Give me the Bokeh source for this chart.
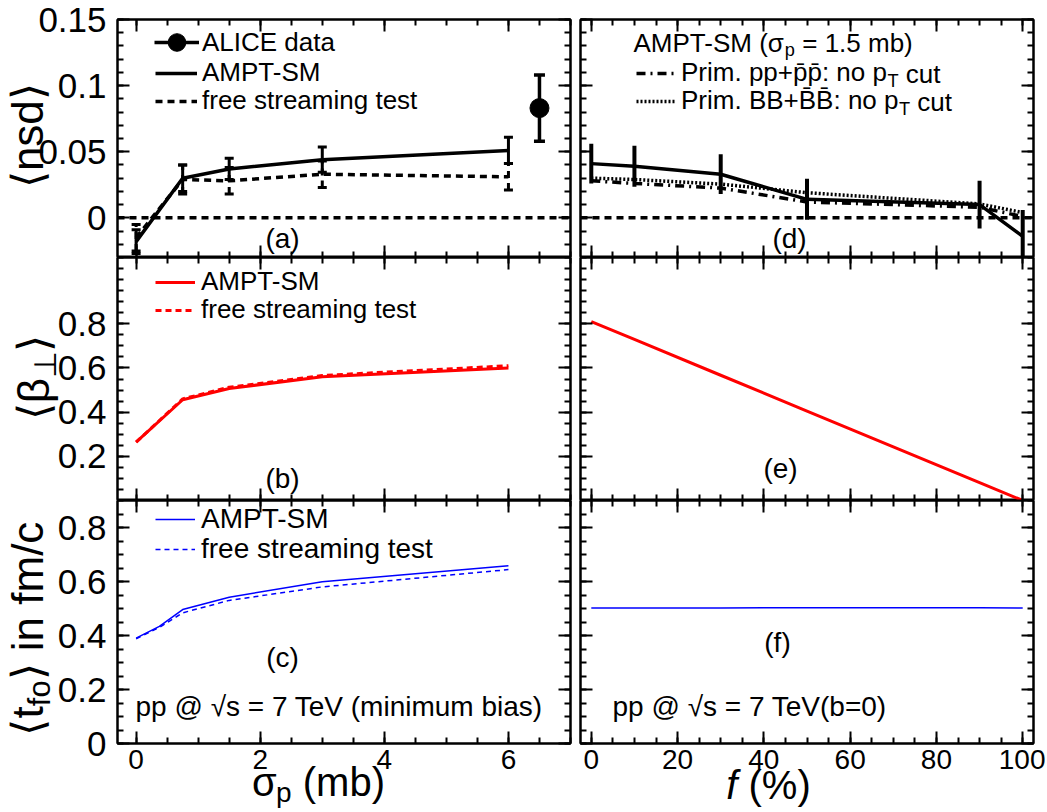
import math
from bokeh.plotting import figure
from bokeh.models import (Range1d, FixedTicker, LinearAxis, Label, Legend, LegendItem,
                          ColumnDataSource, Whisker, TeeHead, Span, GridPlot)
from bokeh.embed import file_html
from bokeh.resources import INLINE

FONT = "Liberation Sans"

# ---------------- data ----------------
sigma_nsd = [0.0, 0.75, 1.5, 3.0, 6.0]
nsd_ampt = [-0.018, 0.030, 0.037, 0.044, 0.051]
nsd_ampt_err = [0.009, 0.010, 0.008, 0.0095, 0.010]
nsd_free = [-0.015, 0.029, 0.028, 0.033, 0.031]
nsd_free_err = [0.010, 0.011, 0.010, 0.010, 0.010]

alice_sigma = [6.5]
alice_nsd = [0.083]
alice_err = [0.025]

sigma_beta = [0.0, 0.75, 1.5, 3.0, 6.0]
beta_ampt = [0.264, 0.456, 0.507, 0.560, 0.600]
beta_free = [0.264, 0.460, 0.513, 0.566, 0.610]

sigma_tfo = [0.0, 0.375, 0.75, 1.5, 3.0, 6.0]
tfo_ampt = [0.390, 0.434, 0.496, 0.542, 0.599, 0.658]
tfo_free = [0.388, 0.430, 0.484, 0.530, 0.580, 0.644]

f_pct = [0, 10, 30, 50, 90, 100]
nsd_f_ampt = [0.041, 0.039, 0.033, 0.014, 0.010, -0.014]
nsd_f_err = [0.015, 0.0155, 0.015, 0.0155, 0.018, 0.020]
nsd_f_pp = [0.028, 0.026, 0.0225, 0.012, 0.008, 0.001]
nsd_f_bb = [0.030, 0.029, 0.0255, 0.019, 0.0105, 0.004]
beta_f = [0.81, 0.729, 0.567, 0.405, 0.081, 0.0]
tfo_f = [0.502, 0.502, 0.502, 0.503, 0.503, 0.502]

# ---------------- axes config ----------------
SIG_RANGE = (-0.3, 7.0)
F_RANGE = (-2.5, 102.5)
NSD_RANGE = (-0.03, 0.15)
BETA_RANGE = (0.0, 1.1)
TFO_RANGE = (0.0, 0.9)

sig_ticks = [0, 2, 4, 6]
sig_minor = [0.5 * i for i in range(15)]
f_ticks = [0, 20, 40, 60, 80, 100]
f_minor = list(range(0, 101, 5))
nsd_ticks = [0, 0.05, 0.1, 0.15]
nsd_minor = [round(-0.03 + 0.01 * i, 2) for i in range(19)]
beta_ticks = [0.2, 0.4, 0.6, 0.8]
beta_minor = [round(0.05 * i, 2) for i in range(23)]
tfo_ticks = [0, 0.2, 0.4, 0.6, 0.8]
tfo_minor = [round(0.05 * i, 2) for i in range(19)]

nsd_labels = {0: "0", 0.05: "0.05", 0.1: "0.1", 0.15: "0.15"}
beta_labels = {0.2: "0.2", 0.4: "0.4", 0.6: "0.6", 0.8: "0.8"}
tfo_labels = {0: "0", 0.2: "0.2", 0.4: "0.4", 0.6: "0.6", 0.8: "0.8"}
sig_labels = {0: "0", 2: "2", 4: "4", 6: "6"}
f_labels = {0: "0", 20: "20", 40: "40", 60: "60", 80: "80", 100: "100"}

FW, FH = 453, 243
FH_A = 238
LB, TOPB, BOTB = 117, 19, 66
LEFT_W = LB + FW + 5
RIGHT_W = 5 + FW + 12
TOTAL_W = LEFT_W + RIGHT_W
TOTAL_H = TOPB + FH_A + 2 * FH + BOTB

# Arial / Liberation Sans advance widths (em)
W = {' ': 0.278, '(': 0.333, ')': 0.333, '.': 0.278, ':': 0.278, '+': 0.584, '=': 0.584,
     '-': 0.333, '/': 0.278, '@': 1.015, '%': 0.889,
     'A': 0.667, 'B': 0.667, 'C': 0.722, 'E': 0.667, 'I': 0.278, 'L': 0.556, 'M': 0.833,
     'P': 0.667, 'S': 0.667, 'T': 0.611, 'V': 0.667,
     'a': 0.556, 'b': 0.556, 'c': 0.5, 'd': 0.556, 'e': 0.556, 'f': 0.278, 'g': 0.556,
     'i': 0.222, 'm': 0.833, 'n': 0.556, 'o': 0.556, 'p': 0.556, 'r': 0.333, 's': 0.5,
     't': 0.278, 'u': 0.556,
     '\u03c3': 0.6, '\u03b2': 0.575, '\u22a5': 0.838, '\u27e8': 0.39, '\u27e9': 0.39,
     '\u221a': 0.549, '\u0304': 0.0}


def text_width(s, size):
    return sum(W.get(c, 0.556) for c in s) * size


def rich(p, x, y, segs, size, angle=0.0, x_off=0.0, y_off=0.0, align="left"):
    sizes = [size * 0.7 if m == "s" else size for _, m in segs]
    total = sum(text_width(t, fs) for (t, _), fs in zip(segs, sizes))
    pos = 0.0 if align == "left" else -total / 2.0
    for (t, m), fs in zip(segs, sizes):
        lead = len(t) - len(t.lstrip(" "))
        pos += lead * W[" "] * fs
        t = t.lstrip(" ")
        shift = -0.28 * size if m == "s" else 0.0
        if angle == 0.0:
            xo, yo = x_off + pos, y_off + shift
        else:
            xo, yo = x_off - shift, y_off + pos
        p.add_layout(Label(x=x, y=y, x_offset=xo, y_offset=yo, text=t, angle=angle,
                           text_font=FONT, text_font_size=f"{fs:.1f}px",
                           text_font_style="italic" if m == "i" else "normal",
                           text_align="left", text_baseline="middle", text_color="black"))
        pos += text_width(t, fs)


def style_axis(ax, ticker, show, size, standoff, overrides):
    ax.ticker = ticker
    ax.axis_line_color = "black"
    ax.axis_line_width = 2
    ax.major_tick_line_color = "black"
    ax.major_tick_line_width = 2
    ax.major_tick_in = 12
    ax.major_tick_out = 0
    ax.minor_tick_line_color = "black"
    ax.minor_tick_line_width = 2
    ax.minor_tick_in = 6
    ax.minor_tick_out = 0
    if show:
        ax.major_label_text_font = FONT
        ax.major_label_text_font_size = size
        ax.major_label_text_color = "black"
        ax.major_label_standoff = standoff
        ax.major_label_overrides = overrides
    else:
        ax.major_label_overrides = {k: "" for k in overrides}
        ax.major_label_text_font_size = "0px"
        ax.major_label_standoff = 0


def make_panel(xr, yr, xt, xm, yt, ym, xl, yl, show_x, show_y, left, right, top, bottom, fh=FH):
    p = figure(frame_width=FW, frame_height=fh, x_range=Range1d(*xr), y_range=Range1d(*yr),
               output_backend="svg", toolbar_location=None, tools="",
               min_border_left=left, min_border_right=right,
               min_border_top=top, min_border_bottom=bottom,
               outline_line_color="black", outline_line_width=2,
               background_fill_color="white", border_fill_color="white")
    p.xgrid.visible = False
    p.ygrid.visible = False
    xtick = FixedTicker(ticks=xt, minor_ticks=xm)
    ytick = FixedTicker(ticks=yt, minor_ticks=ym)
    style_axis(p.xaxis[0], xtick, show_x, "28px", 6, xl)
    style_axis(p.yaxis[0], ytick, show_y, "35px", 11, yl)
    ax_t = LinearAxis()
    style_axis(ax_t, xtick, False, "0px", 0, xl)
    p.add_layout(ax_t, "above")
    ax_r = LinearAxis()
    style_axis(ax_r, ytick, False, "0px", 0, yl)
    p.add_layout(ax_r, "right")
    return p


def legend_row(p, label, renderers, vx, center_from_top, size, h, gw=40, standoff=6, fh=FH):
    vy = fh - center_from_top - h / 2.0
    p.add_layout(Legend(items=[LegendItem(label=label, renderers=renderers)],
                        location=(vx, vy), background_fill_alpha=0.0,
                        border_line_alpha=0.0, label_text_font=FONT, label_text_font_size=size,
                        label_text_color="black", glyph_width=gw, glyph_height=h,
                        label_height=h, padding=0, margin=0, spacing=0,
                        label_standoff=standoff))


def panel_tag(p, x, y, txt, xo, yo):
    p.add_layout(Label(x=x, y=y, x_offset=xo, y_offset=yo, text=txt, text_font=FONT,
                       text_font_size="28px", text_align="center", text_baseline="middle",
                       text_color="black"))


DASH = "7 5"

# ---------------- panel (a) ----------------
pa = make_panel(SIG_RANGE, NSD_RANGE, sig_ticks, sig_minor, nsd_ticks, nsd_minor,
                sig_labels, nsd_labels, False, True, LB, 5, TOPB, 0, FH_A)
pa.add_layout(Span(location=0, dimension="width", line_color="black", line_width=3.5, line_dash=DASH))
src_a1 = ColumnDataSource(dict(x=sigma_nsd, y=nsd_ampt,
                               lo=[v - e for v, e in zip(nsd_ampt, nsd_ampt_err)],
                               hi=[v + e for v, e in zip(nsd_ampt, nsd_ampt_err)]))
src_a2 = ColumnDataSource(dict(x=sigma_nsd, y=nsd_free,
                               lo=[v - e for v, e in zip(nsd_free, nsd_free_err)],
                               hi=[v + e for v, e in zip(nsd_free, nsd_free_err)]))
src_al = ColumnDataSource(dict(x=alice_sigma, y=alice_nsd,
                               lo=[v - e for v, e in zip(alice_nsd, alice_err)],
                               hi=[v + e for v, e in zip(alice_nsd, alice_err)]))
r_free = pa.line("x", "y", source=src_a2, line_color="black", line_width=3.5, line_dash=DASH)
pa.add_layout(Whisker(base="x", lower="lo", upper="hi", source=src_a2, dimension="height",
                      line_color="black", line_width=3, line_dash=DASH,
                      upper_head=TeeHead(size=9, line_width=3), lower_head=TeeHead(size=9, line_width=3)))
r_amp = pa.line("x", "y", source=src_a1, line_color="black", line_width=3.5)
pa.add_layout(Whisker(base="x", lower="lo", upper="hi", source=src_a1, dimension="height",
                      line_color="black", line_width=3,
                      upper_head=TeeHead(size=9, line_width=3), lower_head=TeeHead(size=9, line_width=3)))
pa.add_layout(Whisker(base="x", lower="lo", upper="hi", source=src_al, dimension="height",
                      line_color="black", line_width=3.5,
                      upper_head=TeeHead(size=11, line_width=3.5), lower_head=TeeHead(size=11, line_width=3.5)))
r_al_line = pa.line("x", "y", source=src_al, line_color="black", line_width=3.5)
r_al_pt = pa.scatter("x", "y", source=src_al, marker="circle", size=19, color="black")
legend_row(pa, "ALICE data", [r_al_line, r_al_pt], 37, 23, "26px", 44, 45, 3, FH_A)
legend_row(pa, "AMPT-SM", [r_amp], 38, 54, "26px", 30, 42, 5, FH_A)
legend_row(pa, "free streaming test", [r_free], 38, 82, "26px", 30, 42, 5, FH_A)
panel_tag(pa, SIG_RANGE[0], NSD_RANGE[0], "(a)", 165, 19)

# ---------------- panel (d) ----------------
pd_ = make_panel(F_RANGE, NSD_RANGE, f_ticks, f_minor, nsd_ticks, nsd_minor,
                 f_labels, nsd_labels, False, False, 5, 12, TOPB, 0, FH_A)
pd_.add_layout(Span(location=0, dimension="width", line_color="black", line_width=3.5, line_dash=DASH))
src_d = ColumnDataSource(dict(x=f_pct, y=nsd_f_ampt,
                              lo=[v - e for v, e in zip(nsd_f_ampt, nsd_f_err)],
                              hi=[v + e for v, e in zip(nsd_f_ampt, nsd_f_err)]))
r_pp = pd_.line(f_pct, nsd_f_pp, line_color="black", line_width=3.5, line_dash="9 5 2 5")
r_bb = pd_.line(f_pct, nsd_f_bb, line_color="black", line_width=3.5, line_dash="2 2")
pd_.line("x", "y", source=src_d, line_color="black", line_width=3.5)
pd_.segment(x0="x", y0="lo", x1="x", y1="hi", source=src_d, line_color="black", line_width=4)
D_VX, D_GW, D_SO = 56, 40, 5
pp_txt = "Prim. pp+p\u0304p\u0304: no p"
bb_txt = "Prim. BB+B\u0304B\u0304: no p"
for row_txt, rend, yrow in ((pp_txt, r_pp, 54), (bb_txt, r_bb, 82)):
    legend_row(pd_, row_txt, [rend], D_VX, yrow, "26px", 30, D_GW, D_SO, FH_A)
    x0 = D_VX + D_GW + D_SO + text_width(row_txt, 26)
    rich(pd_, F_RANGE[0], NSD_RANGE[1], [("T", "s"), (" cut", "n")], 26, x_off=x0, y_off=-yrow)
rich(pd_, F_RANGE[0], NSD_RANGE[1], [("AMPT-SM (\u03c3", "n"), ("p", "s"), (" = 1.5 mb)", "n")], 26,
     x_off=53, y_off=-23)
panel_tag(pd_, F_RANGE[0], NSD_RANGE[0], "(d)", 209, 19)

# ---------------- panel (b) ----------------
pb = make_panel(SIG_RANGE, BETA_RANGE, sig_ticks, sig_minor, beta_ticks, beta_minor,
                sig_labels, beta_labels, False, True, LB, 5, 0, 0)
r_b1 = pb.line(sigma_beta, beta_ampt, line_color="red", line_width=3)
r_b2 = pb.line(sigma_beta, beta_free, line_color="red", line_width=3, line_dash="6 4")
legend_row(pb, "AMPT-SM", [r_b1], 38, 25, "26px", 30, 40, 6)
legend_row(pb, "free streaming test", [r_b2], 38, 53, "26px", 30, 40, 6)
panel_tag(pb, SIG_RANGE[0], BETA_RANGE[0], "(b)", 165, 22)

# ---------------- panel (e) ----------------
pe = make_panel(F_RANGE, BETA_RANGE, f_ticks, f_minor, beta_ticks, beta_minor,
                f_labels, beta_labels, False, False, 5, 12, 0, 0)
pe.line(f_pct, beta_f, line_color="red", line_width=3)
panel_tag(pe, F_RANGE[0], BETA_RANGE[0], "(e)", 200, 32)

# ---------------- panel (c) ----------------
pc = make_panel(SIG_RANGE, TFO_RANGE, sig_ticks, sig_minor, tfo_ticks, tfo_minor,
                sig_labels, tfo_labels, True, True, LB, 5, 0, BOTB)
r_c1 = pc.line(sigma_tfo, tfo_ampt, line_color="blue", line_width=1.5)
r_c2 = pc.line(sigma_tfo, tfo_free, line_color="blue", line_width=1.5, line_dash="5 4")
legend_row(pc, "AMPT-SM", [r_c1], 38, 19, "28px", 32, 40, 6)
legend_row(pc, "free streaming test", [r_c2], 38, 49, "28px", 32, 40, 6)
panel_tag(pc, SIG_RANGE[0], TFO_RANGE[0], "(c)", 165, 86)
pc.add_layout(Label(x=SIG_RANGE[0], y=TFO_RANGE[0], x_offset=18, y_offset=37,
                    text="pp @ \u221as = 7 TeV (minimum bias)", text_font=FONT,
                    text_font_size="28px", text_align="left", text_baseline="middle",
                    text_color="black"))

# ---------------- panel (f) ----------------
pf = make_panel(F_RANGE, TFO_RANGE, f_ticks, f_minor, tfo_ticks, tfo_minor,
                f_labels, tfo_labels, True, False, 5, 12, 0, BOTB)
pf.line(f_pct, tfo_f, line_color="blue", line_width=1.5)
panel_tag(pf, F_RANGE[0], TFO_RANGE[0], "(f)", 197, 101)
pf.add_layout(Label(x=F_RANGE[0], y=TFO_RANGE[0], x_offset=32, y_offset=37,
                    text="pp @ \u221as = 7 TeV(b=0)", text_font=FONT,
                    text_font_size="28px", text_align="left", text_baseline="middle",
                    text_color="black"))

# ---------------- transparent overlay (page pixel coordinates) for the axis titles ----------------
ov = figure(width=TOTAL_W, height=TOTAL_H, x_range=Range1d(0, TOTAL_W), y_range=Range1d(TOTAL_H, 0),
            output_backend="svg", toolbar_location=None, tools="",
            x_axis_type=None, y_axis_type=None, min_border=0,
            outline_line_color=None, background_fill_alpha=0.0, border_fill_alpha=0.0)
try:
    ov.frame_align = False
except Exception:
    pass
ov.grid.visible = False
rich(ov, 27, 135, [("\u27e8nsd\u27e9", "n")], 44, angle=math.pi / 2, align="center")
rich(ov, 33, 377, [("\u27e8\u03b2", "n"), ("\u22a5", "s"), ("\u27e9", "n")], 44,
     angle=math.pi / 2, align="center")
rich(ov, 27, 628, [("\u27e8t", "n"), ("fo", "s"), ("\u27e9 in fm/c", "n")], 44,
     angle=math.pi / 2, align="center")
rich(ov, 318, 781, [("\u03c3", "n"), ("p", "s"), (" (mb)", "n")], 40, align="center")
rich(ov, 768, 784, [("f", "i"), (" (%)", "n")], 40, align="center")

grid = GridPlot(children=[(pa, 0, 0), (pd_, 0, 1), (pb, 1, 0), (pe, 1, 1),
                          (pc, 2, 0), (pf, 2, 1), (ov, 0, 0, 3, 2)],
                toolbar_location=None)

with open("out.html", "w") as fh:
    fh.write(file_html(grid, INLINE, "plot"))
